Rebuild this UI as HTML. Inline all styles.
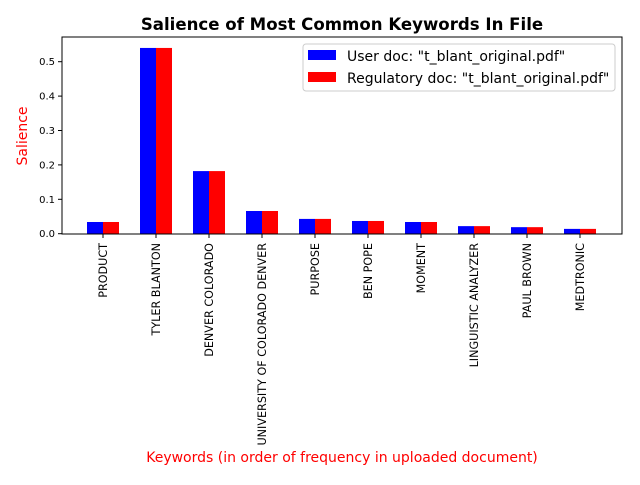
<!DOCTYPE html>
<html><head><meta charset="utf-8"><style>
body{margin:0;background:#fff;}
svg text{font-family:"DejaVu Sans","Liberation Sans",sans-serif;}
</style></head><body>
<svg id="chart" width="640" height="480">
<rect width="640" height="480" fill="#fff"/>
<text x="342" y="30" text-anchor="middle" font-size="16.6" font-weight="bold">Salience of Most Common Keywords In File</text>
<text x="27" y="136" text-anchor="middle" font-size="14" fill="red" transform="rotate(-90 27 136)">Salience</text>
<text x="342" y="462" text-anchor="middle" font-size="14" fill="red">Keywords (in order of frequency in uploaded document)</text>
<g id="bars"></g>
<g id="axes"></g>
<rect x="62" y="37" width="560" height="197" fill="none" stroke="#000" stroke-width="1"/>
<g>
<rect x="303" y="44" width="312" height="47" fill="#fff" stroke="#ccc" rx="3"/>
<rect x="308" y="50" width="28" height="10" fill="blue"/>
<text x="347" y="61" font-size="14">User doc: "t_blant_original.pdf"</text>
<rect x="308" y="72" width="28" height="10" fill="red"/>
<text x="347" y="83" font-size="14">Regulatory doc: "t_blant_original.pdf"</text>
</g>
</svg>
<script>
const categories=["PRODUCT","TYLER BLANTON","DENVER COLORADO","UNIVERSITY OF COLORADO DENVER","PURPOSE","BEN POPE","MOMENT","LINGUISTIC ANALYZER","PAUL BROWN","MEDTRONIC"];
const userValues=[0.034,0.54,0.182,0.066,0.043,0.037,0.034,0.022,0.019,0.014];
const regValues=[0.034,0.54,0.182,0.066,0.043,0.037,0.034,0.022,0.019,0.014];
const yTicks=[0,0.1,0.2,0.3,0.4,0.5];
const yTickLabels=["0.0","0.1","0.2","0.3","0.4","0.5"];
const NS="http://www.w3.org/2000/svg";
function xS(i){return 103+53.0*i;}
function yS(v){return 233.7-v*344;}
const bars=document.getElementById('bars'),axes=document.getElementById('axes');
function mk(tag,attrs,parent){const e=document.createElementNS(NS,tag);for(const k in attrs)e.setAttribute(k,attrs[k]);parent.appendChild(e);return e;}
categories.forEach((c,i)=>{
 const cx=xS(i);
 const b1=mk('rect',{x:cx-16,y:yS(userValues[i]),width:16,height:yS(0)-yS(userValues[i]),fill:'blue'},bars);
 
 
 const b2=mk('rect',{x:cx,y:yS(regValues[i]),width:16,height:yS(0)-yS(regValues[i]),fill:'red'},bars);
 
 
 const t=mk('line',{x1:cx,x2:cx,y1:234,y2:238,stroke:'#000'},axes);
 
 
 const l=mk('text',{x:0,y:0,'font-size':11.2,'text-anchor':'end',transform:`translate(${cx+4},243) rotate(-90)`},axes);
 l.textContent=c;
 
 
});
yTicks.forEach((v,i)=>{
 const y=yS(v);
 const t=mk('line',{x1:58,x2:62,y1:y,y2:y,stroke:'#000'},axes);
 
 
 const l=mk('text',{x:55,y:y+3.5,'font-size':10,'text-anchor':'end'},axes);
 l.textContent=yTickLabels[i];
 
 
});
</script>
</body></html>
